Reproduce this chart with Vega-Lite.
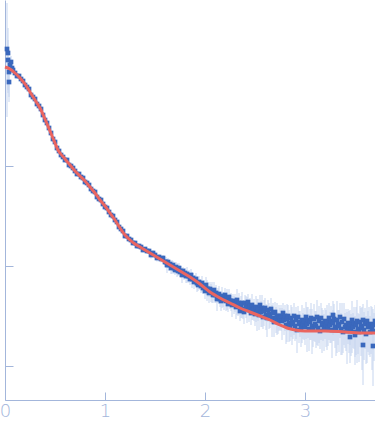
{
"$schema":"https://vega.github.io/schema/vega-lite/v6.json",
"width":370,"height":400,
"autosize":{"type":"none"},
"padding":{"left":5,"top":0,"right":0,"bottom":38},
"background":"white",
"config":{"view":{"stroke":null},
"axis":{"domainColor":"#a3b6db","tickColor":"#a3b6db","labelColor":"#a3b6db","grid":false,"title":null,"domainWidth":1,"tickWidth":1}},
"datasets":{
"fit":[
{"q":0.00,"logI":-0.01},{"q":0.05,"logI":-0.03},{"q":0.10,"logI":-0.07},{"q":0.15,"logI":-0.12},{"q":0.20,"logI":-0.18},{"q":0.25,"logI":-0.26},{"q":0.30,"logI":-0.34},{"q":0.35,"logI":-0.42},{"q":0.40,"logI":-0.53},{"q":0.45,"logI":-0.65},{"q":0.50,"logI":-0.77},{"q":0.53,"logI":-0.84},{"q":0.55,"logI":-0.87},{"q":0.60,"logI":-0.93},{"q":0.65,"logI":-0.99},{"q":0.70,"logI":-1.05},{"q":0.75,"logI":-1.10},{"q":0.80,"logI":-1.15},{"q":0.85,"logI":-1.21},{"q":0.90,"logI":-1.27},{"q":0.95,"logI":-1.34},{"q":1.00,"logI":-1.40},{"q":1.05,"logI":-1.47},{"q":1.10,"logI":-1.54},{"q":1.15,"logI":-1.62},{"q":1.20,"logI":-1.69},{"q":1.25,"logI":-1.74},{"q":1.30,"logI":-1.78},{"q":1.35,"logI":-1.81},{"q":1.40,"logI":-1.84},{"q":1.45,"logI":-1.87},{"q":1.50,"logI":-1.90},{"q":1.55,"logI":-1.93},{"q":1.65,"logI":-1.99},{"q":1.75,"logI":-2.05},{"q":1.85,"logI":-2.11},{"q":1.95,"logI":-2.18},{"q":2.05,"logI":-2.26},{"q":2.15,"logI":-2.32},{"q":2.25,"logI":-2.37},{"q":2.35,"logI":-2.42},{"q":2.45,"logI":-2.46},{"q":2.55,"logI":-2.50},{"q":2.65,"logI":-2.54},{"q":2.75,"logI":-2.59},{"q":2.82,"logI":-2.62},{"q":2.90,"logI":-2.64},{"q":3.00,"logI":-2.65},{"q":3.20,"logI":-2.65},{"q":3.40,"logI":-2.66},{"q":3.60,"logI":-2.67},{"q":3.70,"logI":-2.67}
],
"pts":[
{"q":0.02,"logI":0.17,"u":0.46,"d":-0.68},{"q":0.03,"logI":0.13,"u":0.25,"d":-0.40},{"q":0.03,"logI":0.06,"u":0.20,"d":-0.30},{"q":0.04,"logI":-0.06,"u":0.15,"d":-0.25},{"q":0.04,"logI":-0.16,"u":0.12,"d":-0.20},{"q":0.05,"logI":0.01,"u":0.08,"d":-0.10},{"q":0.06,"logI":0.04,"u":0.06,"d":-0.08},{"q":0.07,"logI":-0.02,"u":0.04,"d":-0.05},
{"q":0.08,"logI":-0.04,"u":0.01,"d":-0.01},{"q":0.10,"logI":-0.07,"u":0.01,"d":-0.01},{"q":0.12,"logI":-0.10,"u":0.01,"d":-0.01},{"q":0.14,"logI":-0.10,"u":0.01,"d":-0.01},{"q":0.16,"logI":-0.13,"u":0.01,"d":-0.01},{"q":0.18,"logI":-0.15,"u":0.01,"d":-0.01},{"q":0.20,"logI":-0.19,"u":0.01,"d":-0.01},{"q":0.22,"logI":-0.21,"u":0.01,"d":-0.01},{"q":0.24,"logI":-0.23,"u":0.01,"d":-0.01},{"q":0.26,"logI":-0.29,"u":0.01,"d":-0.01},{"q":0.28,"logI":-0.31,"u":0.01,"d":-0.01},{"q":0.30,"logI":-0.33,"u":0.01,"d":-0.01},{"q":0.32,"logI":-0.38,"u":0.01,"d":-0.01},{"q":0.34,"logI":-0.40,"u":0.01,"d":-0.01},{"q":0.36,"logI":-0.43,"u":0.01,"d":-0.01},{"q":0.38,"logI":-0.49,"u":0.01,"d":-0.01},{"q":0.40,"logI":-0.54,"u":0.01,"d":-0.01},{"q":0.42,"logI":-0.57,"u":0.01,"d":-0.01},{"q":0.44,"logI":-0.62,"u":0.01,"d":-0.01},{"q":0.46,"logI":-0.67,"u":0.01,"d":-0.01},{"q":0.48,"logI":-0.73,"u":0.01,"d":-0.01},{"q":0.50,"logI":-0.76,"u":0.01,"d":-0.01},{"q":0.52,"logI":-0.82,"u":0.01,"d":-0.01},{"q":0.54,"logI":-0.85,"u":0.01,"d":-0.01},{"q":0.56,"logI":-0.89,"u":0.01,"d":-0.01},{"q":0.58,"logI":-0.91,"u":0.01,"d":-0.01},{"q":0.60,"logI":-0.94,"u":0.01,"d":-0.01},{"q":0.62,"logI":-0.94,"u":0.01,"d":-0.01},{"q":0.64,"logI":-0.99,"u":0.01,"d":-0.01},{"q":0.66,"logI":-1.00,"u":0.01,"d":-0.01},{"q":0.68,"logI":-1.02,"u":0.01,"d":-0.01},{"q":0.70,"logI":-1.05,"u":0.01,"d":-0.01},{"q":0.72,"logI":-1.08,"u":0.01,"d":-0.01},{"q":0.74,"logI":-1.08,"u":0.01,"d":-0.01},{"q":0.76,"logI":-1.11,"u":0.01,"d":-0.01},{"q":0.78,"logI":-1.12,"u":0.01,"d":-0.01},{"q":0.80,"logI":-1.16,"u":0.01,"d":-0.01},{"q":0.82,"logI":-1.17,"u":0.01,"d":-0.01},{"q":0.84,"logI":-1.19,"u":0.01,"d":-0.01},{"q":0.86,"logI":-1.23,"u":0.01,"d":-0.01},{"q":0.88,"logI":-1.25,"u":0.01,"d":-0.01},{"q":0.90,"logI":-1.26,"u":0.01,"d":-0.01},{"q":0.92,"logI":-1.31,"u":0.01,"d":-0.01},{"q":0.94,"logI":-1.33,"u":0.01,"d":-0.01},{"q":0.96,"logI":-1.34,"u":0.01,"d":-0.01},{"q":0.98,"logI":-1.38,"u":0.01,"d":-0.01},
{"q":1.00,"logI":-1.41,"u":0.015,"d":-0.015},{"q":1.02,"logI":-1.42,"u":0.015,"d":-0.015},{"q":1.04,"logI":-1.46,"u":0.015,"d":-0.015},{"q":1.06,"logI":-1.49,"u":0.015,"d":-0.015},{"q":1.08,"logI":-1.50,"u":0.015,"d":-0.015},{"q":1.10,"logI":-1.54,"u":0.015,"d":-0.015},{"q":1.12,"logI":-1.56,"u":0.015,"d":-0.015},{"q":1.14,"logI":-1.61,"u":0.015,"d":-0.015},{"q":1.16,"logI":-1.63,"u":0.015,"d":-0.015},{"q":1.18,"logI":-1.65,"u":0.015,"d":-0.015},{"q":1.20,"logI":-1.70,"u":0.015,"d":-0.015},{"q":1.22,"logI":-1.70,"u":0.015,"d":-0.015},{"q":1.24,"logI":-1.73,"u":0.015,"d":-0.015},{"q":1.26,"logI":-1.74,"u":0.015,"d":-0.015},{"q":1.28,"logI":-1.77,"u":0.015,"d":-0.015},
{"q":1.30,"logI":-1.77,"u":0.02,"d":-0.025},{"q":1.32,"logI":-1.80,"u":0.02,"d":-0.025},{"q":1.34,"logI":-1.80,"u":0.02,"d":-0.025},{"q":1.36,"logI":-1.81,"u":0.02,"d":-0.025},{"q":1.38,"logI":-1.84,"u":0.02,"d":-0.025},{"q":1.40,"logI":-1.83,"u":0.02,"d":-0.025},{"q":1.42,"logI":-1.85,"u":0.02,"d":-0.025},{"q":1.44,"logI":-1.85,"u":0.02,"d":-0.025},
{"q":1.46,"logI":-1.89,"u":0.03,"d":-0.035},{"q":1.48,"logI":-1.87,"u":0.03,"d":-0.035},{"q":1.50,"logI":-1.89,"u":0.03,"d":-0.035},{"q":1.52,"logI":-1.92,"u":0.03,"d":-0.035},{"q":1.54,"logI":-1.91,"u":0.03,"d":-0.035},{"q":1.56,"logI":-1.93,"u":0.03,"d":-0.035},{"q":1.58,"logI":-1.92,"u":0.03,"d":-0.035},{"q":1.60,"logI":-1.96,"u":0.03,"d":-0.035},
{"q":1.61,"logI":-1.96,"u":0.05,"d":-0.06},{"q":1.62,"logI":-1.99,"u":0.06,"d":-0.08},{"q":1.63,"logI":-1.96,"u":0.04,"d":-0.05},{"q":1.64,"logI":-1.99,"u":0.05,"d":-0.06},{"q":1.65,"logI":-1.98,"u":0.04,"d":-0.05},{"q":1.66,"logI":-2.02,"u":0.05,"d":-0.06},{"q":1.67,"logI":-2.00,"u":0.06,"d":-0.08},{"q":1.68,"logI":-1.99,"u":0.04,"d":-0.05},{"q":1.69,"logI":-2.02,"u":0.05,"d":-0.06},{"q":1.70,"logI":-2.04,"u":0.04,"d":-0.05},{"q":1.71,"logI":-2.01,"u":0.05,"d":-0.06},{"q":1.72,"logI":-2.03,"u":0.06,"d":-0.08},{"q":1.73,"logI":-2.05,"u":0.04,"d":-0.05},{"q":1.74,"logI":-2.02,"u":0.05,"d":-0.06},{"q":1.75,"logI":-2.06,"u":0.04,"d":-0.05},{"q":1.76,"logI":-2.05,"u":0.05,"d":-0.06},{"q":1.77,"logI":-2.09,"u":0.06,"d":-0.08},{"q":1.78,"logI":-2.05,"u":0.04,"d":-0.05},{"q":1.79,"logI":-2.08,"u":0.05,"d":-0.06},
{"q":1.80,"logI":-2.07,"u":0.05,"d":-0.06},{"q":1.81,"logI":-2.10,"u":0.06,"d":-0.07},{"q":1.82,"logI":-2.08,"u":0.07,"d":-0.09},{"q":1.83,"logI":-2.10,"u":0.05,"d":-0.06},{"q":1.84,"logI":-2.10,"u":0.06,"d":-0.07},{"q":1.85,"logI":-2.13,"u":0.05,"d":-0.06},{"q":1.86,"logI":-2.09,"u":0.06,"d":-0.07},{"q":1.87,"logI":-2.13,"u":0.07,"d":-0.09},{"q":1.88,"logI":-2.12,"u":0.05,"d":-0.06},{"q":1.89,"logI":-2.16,"u":0.06,"d":-0.07},{"q":1.90,"logI":-2.14,"u":0.05,"d":-0.06},{"q":1.91,"logI":-2.13,"u":0.06,"d":-0.07},{"q":1.92,"logI":-2.17,"u":0.07,"d":-0.09},{"q":1.93,"logI":-2.19,"u":0.05,"d":-0.06},{"q":1.94,"logI":-2.16,"u":0.06,"d":-0.07},{"q":1.95,"logI":-2.18,"u":0.05,"d":-0.06},{"q":1.96,"logI":-2.20,"u":0.06,"d":-0.07},{"q":1.97,"logI":-2.17,"u":0.07,"d":-0.09},{"q":1.98,"logI":-2.22,"u":0.05,"d":-0.06},{"q":1.99,"logI":-2.20,"u":0.06,"d":-0.07},
{"q":2.00,"logI":-2.25,"u":0.07,"d":-0.08},{"q":2.01,"logI":-2.19,"u":0.08,"d":-0.10},{"q":2.02,"logI":-2.23,"u":0.09,"d":-0.12},{"q":2.03,"logI":-2.23,"u":0.07,"d":-0.08},{"q":2.04,"logI":-2.27,"u":0.08,"d":-0.10},{"q":2.05,"logI":-2.23,"u":0.07,"d":-0.08},{"q":2.06,"logI":-2.26,"u":0.08,"d":-0.10},{"q":2.07,"logI":-2.25,"u":0.09,"d":-0.12},{"q":2.08,"logI":-2.29,"u":0.07,"d":-0.08},{"q":2.09,"logI":-2.24,"u":0.08,"d":-0.10},{"q":2.10,"logI":-2.29,"u":0.07,"d":-0.08},{"q":2.11,"logI":-2.27,"u":0.08,"d":-0.10},{"q":2.12,"logI":-2.33,"u":0.09,"d":-0.12},{"q":2.13,"logI":-2.29,"u":0.07,"d":-0.08},{"q":2.14,"logI":-2.28,"u":0.08,"d":-0.10},{"q":2.15,"logI":-2.33,"u":0.07,"d":-0.08},{"q":2.16,"logI":-2.35,"u":0.08,"d":-0.10},{"q":2.17,"logI":-2.30,"u":0.09,"d":-0.12},{"q":2.18,"logI":-2.33,"u":0.07,"d":-0.08},{"q":2.19,"logI":-2.34,"u":0.08,"d":-0.10},{"q":2.20,"logI":-2.29,"u":0.07,"d":-0.08},{"q":2.21,"logI":-2.35,"u":0.08,"d":-0.10},{"q":2.22,"logI":-2.32,"u":0.09,"d":-0.12},{"q":2.23,"logI":-2.38,"u":0.07,"d":-0.08},{"q":2.24,"logI":-2.31,"u":0.08,"d":-0.10},{"q":2.25,"logI":-2.35,"u":0.07,"d":-0.08},{"q":2.26,"logI":-2.35,"u":0.08,"d":-0.10},{"q":2.27,"logI":-2.39,"u":0.09,"d":-0.12},{"q":2.28,"logI":-2.35,"u":0.07,"d":-0.08},{"q":2.29,"logI":-2.38,"u":0.08,"d":-0.10},
{"q":2.30,"logI":-2.36,"u":0.08,"d":-0.10},{"q":2.31,"logI":-2.41,"u":0.10,"d":-0.12},{"q":2.32,"logI":-2.34,"u":0.11,"d":-0.15},{"q":2.33,"logI":-2.40,"u":0.08,"d":-0.10},{"q":2.34,"logI":-2.37,"u":0.10,"d":-0.12},{"q":2.35,"logI":-2.45,"u":0.08,"d":-0.10},{"q":2.36,"logI":-2.40,"u":0.10,"d":-0.12},{"q":2.37,"logI":-2.37,"u":0.11,"d":-0.15},{"q":2.38,"logI":-2.43,"u":0.08,"d":-0.10},{"q":2.39,"logI":-2.46,"u":0.10,"d":-0.12},{"q":2.40,"logI":-2.37,"u":0.08,"d":-0.10},{"q":2.41,"logI":-2.40,"u":0.10,"d":-0.12},{"q":2.42,"logI":-2.42,"u":0.11,"d":-0.15},{"q":2.43,"logI":-2.36,"u":0.08,"d":-0.10},{"q":2.44,"logI":-2.44,"u":0.10,"d":-0.12},{"q":2.45,"logI":-2.40,"u":0.08,"d":-0.10},{"q":2.46,"logI":-2.47,"u":0.10,"d":-0.12},{"q":2.47,"logI":-2.39,"u":0.11,"d":-0.15},{"q":2.48,"logI":-2.44,"u":0.08,"d":-0.10},{"q":2.49,"logI":-2.43,"u":0.10,"d":-0.12},
{"q":2.50,"logI":-2.48,"u":0.10,"d":-0.12},{"q":2.51,"logI":-2.41,"u":0.11,"d":-0.15},{"q":2.52,"logI":-2.46,"u":0.13,"d":-0.19},{"q":2.53,"logI":-2.43,"u":0.10,"d":-0.12},{"q":2.54,"logI":-2.49,"u":0.11,"d":-0.15},{"q":2.55,"logI":-2.39,"u":0.10,"d":-0.12},{"q":2.56,"logI":-2.46,"u":0.11,"d":-0.15},{"q":2.57,"logI":-2.42,"u":0.13,"d":-0.19},{"q":2.58,"logI":-2.51,"u":0.10,"d":-0.12},{"q":2.59,"logI":-2.45,"u":0.11,"d":-0.15},{"q":2.60,"logI":-2.42,"u":0.10,"d":-0.12},{"q":2.61,"logI":-2.49,"u":0.11,"d":-0.15},{"q":2.62,"logI":-2.52,"u":0.13,"d":-0.19},{"q":2.63,"logI":-2.44,"u":0.10,"d":-0.12},{"q":2.64,"logI":-2.48,"u":0.11,"d":-0.15},{"q":2.65,"logI":-2.50,"u":0.10,"d":-0.12},{"q":2.66,"logI":-2.43,"u":0.11,"d":-0.15},{"q":2.67,"logI":-2.52,"u":0.13,"d":-0.19},{"q":2.68,"logI":-2.47,"u":0.10,"d":-0.12},{"q":2.69,"logI":-2.56,"u":0.11,"d":-0.15},{"q":2.70,"logI":-2.46,"u":0.10,"d":-0.12},{"q":2.71,"logI":-2.52,"u":0.11,"d":-0.15},{"q":2.72,"logI":-2.50,"u":0.13,"d":-0.19},{"q":2.73,"logI":-2.56,"u":0.10,"d":-0.12},{"q":2.74,"logI":-2.50,"u":0.11,"d":-0.15},{"q":2.75,"logI":-2.52,"u":0.10,"d":-0.12},{"q":2.76,"logI":-2.50,"u":0.11,"d":-0.15},{"q":2.77,"logI":-2.55,"u":0.13,"d":-0.19},{"q":2.78,"logI":-2.47,"u":0.10,"d":-0.12},{"q":2.79,"logI":-2.54,"u":0.11,"d":-0.15},
{"q":2.80,"logI":-2.50,"u":0.11,"d":-0.15},{"q":2.81,"logI":-2.59,"u":0.13,"d":-0.19},{"q":2.82,"logI":-2.53,"u":0.15,"d":-0.23},{"q":2.83,"logI":-2.50,"u":0.11,"d":-0.15},{"q":2.84,"logI":-2.57,"u":0.13,"d":-0.19},{"q":2.85,"logI":-2.60,"u":0.11,"d":-0.15},{"q":2.86,"logI":-2.52,"u":0.13,"d":-0.19},{"q":2.87,"logI":-2.56,"u":0.15,"d":-0.23},{"q":2.88,"logI":-2.58,"u":0.11,"d":-0.15},{"q":2.89,"logI":-2.50,"u":0.13,"d":-0.19},{"q":2.90,"logI":-2.60,"u":0.11,"d":-0.15},{"q":2.91,"logI":-2.54,"u":0.13,"d":-0.19},{"q":2.92,"logI":-2.64,"u":0.15,"d":-0.23},{"q":2.93,"logI":-2.51,"u":0.11,"d":-0.15},{"q":2.94,"logI":-2.58,"u":0.13,"d":-0.19},{"q":2.95,"logI":-2.56,"u":0.11,"d":-0.15},{"q":2.96,"logI":-2.62,"u":0.13,"d":-0.19},{"q":2.97,"logI":-2.54,"u":0.15,"d":-0.23},{"q":2.98,"logI":-2.58,"u":0.11,"d":-0.15},{"q":2.99,"logI":-2.55,"u":0.13,"d":-0.19},
{"q":3.00,"logI":-2.61,"u":0.13,"d":-0.18},{"q":3.01,"logI":-2.51,"u":0.15,"d":-0.22},{"q":3.02,"logI":-2.58,"u":0.17,"d":-0.28},{"q":3.03,"logI":-2.54,"u":0.13,"d":-0.18},{"q":3.04,"logI":-2.63,"u":0.15,"d":-0.22},{"q":3.05,"logI":-2.56,"u":0.13,"d":-0.18},{"q":3.06,"logI":-2.52,"u":0.15,"d":-0.22},{"q":3.07,"logI":-2.60,"u":0.17,"d":-0.28},{"q":3.08,"logI":-2.63,"u":0.13,"d":-0.18},{"q":3.09,"logI":-2.53,"u":0.15,"d":-0.22},{"q":3.10,"logI":-2.58,"u":0.13,"d":-0.18},{"q":3.11,"logI":-2.60,"u":0.15,"d":-0.22},{"q":3.12,"logI":-2.51,"u":0.17,"d":-0.28},{"q":3.13,"logI":-2.62,"u":0.13,"d":-0.18},{"q":3.14,"logI":-2.55,"u":0.15,"d":-0.22},{"q":3.15,"logI":-2.65,"u":0.13,"d":-0.18},{"q":3.16,"logI":-2.52,"u":0.15,"d":-0.22},{"q":3.17,"logI":-2.59,"u":0.17,"d":-0.28},{"q":3.18,"logI":-2.57,"u":0.13,"d":-0.18},{"q":3.19,"logI":-2.63,"u":0.15,"d":-0.22},{"q":3.20,"logI":-2.55,"u":0.13,"d":-0.18},{"q":3.21,"logI":-2.59,"u":0.15,"d":-0.22},{"q":3.22,"logI":-2.56,"u":0.17,"d":-0.28},{"q":3.23,"logI":-2.62,"u":0.13,"d":-0.18},{"q":3.24,"logI":-2.52,"u":0.15,"d":-0.22},{"q":3.25,"logI":-2.59,"u":0.13,"d":-0.18},{"q":3.26,"logI":-2.55,"u":0.15,"d":-0.22},{"q":3.27,"logI":-2.64,"u":0.17,"d":-0.28},{"q":3.28,"logI":-2.57,"u":0.13,"d":-0.18},{"q":3.29,"logI":-2.53,"u":0.15,"d":-0.22},
{"q":3.30,"logI":-2.61,"u":0.14,"d":-0.21},{"q":3.31,"logI":-2.64,"u":0.16,"d":-0.26},{"q":3.32,"logI":-2.54,"u":0.19,"d":-0.33},{"q":3.33,"logI":-2.58,"u":0.14,"d":-0.21},{"q":3.34,"logI":-2.60,"u":0.16,"d":-0.26},{"q":3.35,"logI":-2.51,"u":0.14,"d":-0.21},{"q":3.36,"logI":-2.63,"u":0.16,"d":-0.26},{"q":3.37,"logI":-2.56,"u":0.19,"d":-0.33},{"q":3.38,"logI":-2.66,"u":0.14,"d":-0.21},{"q":3.39,"logI":-2.53,"u":0.16,"d":-0.26},{"q":3.40,"logI":-2.61,"u":0.14,"d":-0.21},{"q":3.41,"logI":-2.59,"u":0.16,"d":-0.26},{"q":3.42,"logI":-2.65,"u":0.19,"d":-0.33},{"q":3.43,"logI":-2.57,"u":0.14,"d":-0.21},{"q":3.44,"logI":-2.61,"u":0.16,"d":-0.26},{"q":3.45,"logI":-2.58,"u":0.14,"d":-0.21},{"q":3.46,"logI":-2.64,"u":0.16,"d":-0.26},{"q":3.47,"logI":-2.54,"u":0.19,"d":-0.33},{"q":3.48,"logI":-2.61,"u":0.14,"d":-0.21},{"q":3.49,"logI":-2.57,"u":0.16,"d":-0.26},
{"q":3.50,"logI":-2.66,"u":0.16,"d":-0.25},{"q":3.51,"logI":-2.59,"u":0.18,"d":-0.30},{"q":3.52,"logI":-2.55,"u":0.21,"d":-0.42},{"q":3.53,"logI":-2.63,"u":0.16,"d":-0.25},{"q":3.54,"logI":-2.66,"u":0.18,"d":-0.30},{"q":3.55,"logI":-2.56,"u":0.16,"d":-0.25},{"q":3.56,"logI":-2.60,"u":0.18,"d":-0.30},{"q":3.57,"logI":-2.62,"u":0.21,"d":-0.42},{"q":3.58,"logI":-2.54,"u":0.16,"d":-0.25},{"q":3.59,"logI":-2.64,"u":0.18,"d":-0.30},{"q":3.60,"logI":-2.58,"u":0.16,"d":-0.25},{"q":3.61,"logI":-2.68,"u":0.18,"d":-0.30},{"q":3.62,"logI":-2.55,"u":0.21,"d":-0.42},{"q":3.63,"logI":-2.61,"u":0.16,"d":-0.25},{"q":3.64,"logI":-2.59,"u":0.18,"d":-0.30},{"q":3.65,"logI":-2.66,"u":0.16,"d":-0.25},{"q":3.66,"logI":-2.58,"u":0.18,"d":-0.30},{"q":3.67,"logI":-2.62,"u":0.21,"d":-0.42},{"q":3.68,"logI":-2.59,"u":0.16,"d":-0.25},{"q":3.69,"logI":-2.65,"u":0.18,"d":-0.30},{"q":3.70,"logI":-2.55,"u":0.16,"d":-0.25},
{"q":3.28,"logI":-2.49,"u":0.14,"d":-0.20},{"q":3.45,"logI":-2.71,"u":0.16,"d":-0.26},{"q":3.50,"logI":-2.69,"u":0.18,"d":-0.30},{"q":3.58,"logI":-2.79,"u":0.20,"d":-0.40},{"q":3.68,"logI":-2.80,"u":0.20,"d":-0.40}
]},
"layer":[
{"data":{"name":"pts"},
 "mark":{"type":"errorbar","color":"#c6d5ef","thickness":1},
 "encoding":{
  "x":{"field":"q","type":"quantitative","title":null,"scale":{"domain":[0,3.7],"nice":false,"zero":false},
       "axis":{"title":null,"values":[0,1,2,3],"format":"d","tickSize":-8,"labelPadding":10,"labelFontSize":18,"labelFont":"DejaVu Sans","labelFontWeight":200,"labelFlush":false}},
  "y":{"field":"logI","type":"quantitative","title":null,"scale":{"domain":[-3.34,0.66],"nice":false,"zero":false},
       "axis":{"title":null,"values":[-3,-2,-1],"labels":false,"tickSize":-8}},
  "yError":{"field":"u"},"yError2":{"field":"d"}}},
{"data":{"name":"pts"},
 "mark":{"type":"square","filled":true,"size":22,"color":"#3a68bd","opacity":1},
 "encoding":{"x":{"field":"q","type":"quantitative","title":null},"y":{"field":"logI","type":"quantitative","title":null}}},
{"data":{"name":"fit"},
 "mark":{"type":"line","color":"#ea6560","strokeWidth":3,"interpolate":"monotone"},
 "encoding":{"x":{"field":"q","type":"quantitative","title":null},"y":{"field":"logI","type":"quantitative","title":null}}}
]
}
